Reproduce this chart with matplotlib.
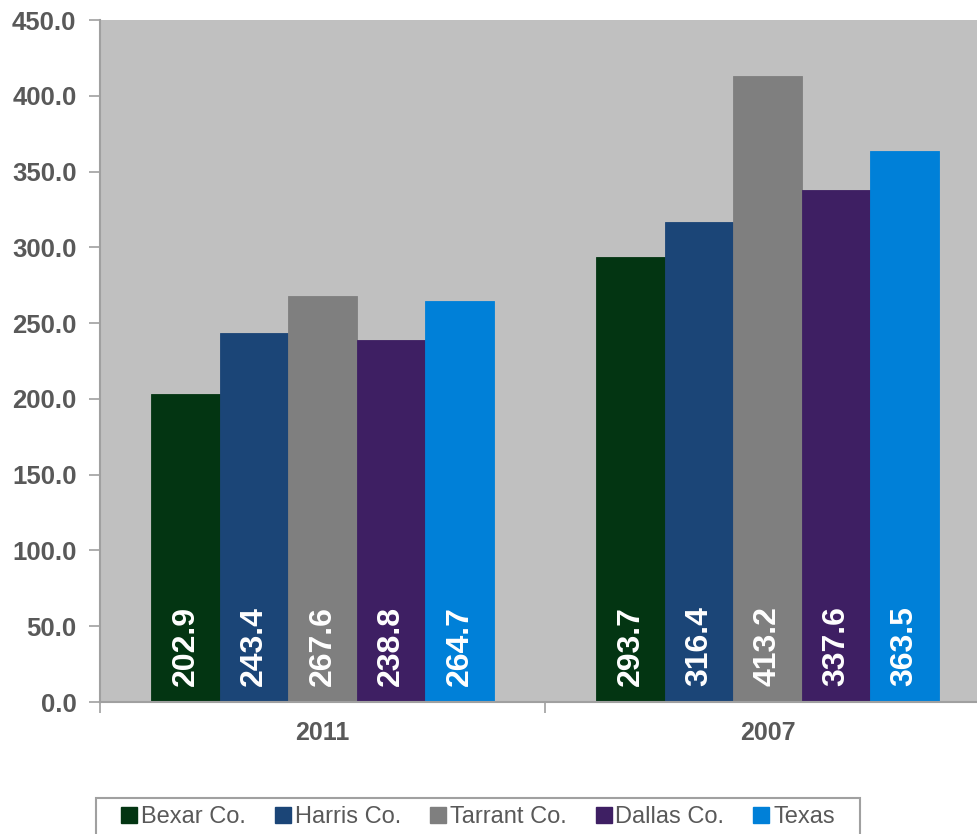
import matplotlib
matplotlib.use("Agg")
import matplotlib.pyplot as plt
import numpy as np
from matplotlib.lines import Line2D
from matplotlib.patches import Rectangle

years = ["2011", "2007"]
series = ["Bexar Co.", "Harris Co.", "Tarrant Co.", "Dallas Co.", "Texas"]
values = {
    "Bexar Co.": [202.9, 293.7],
    "Harris Co.": [243.4, 316.4],
    "Tarrant Co.": [267.6, 413.2],
    "Dallas Co.": [238.8, 337.6],
    "Texas": [264.7, 363.5],
}
colors = ["#033512", "#1b4577", "#7f7f7f", "#3e1f63", "#0080d8"]
yticks = np.arange(0, 451, 50)

plt.rcParams["font.family"] = ["Liberation Sans", "DejaVu Sans"]
text_grey = "#595959"
axis_grey = "#a0a0a0"
W, H = 978, 834

fig = plt.figure(figsize=(W / 100, H / 100), dpi=100)
ax = fig.add_axes([100 / W, 1 - 702 / H, 890 / W, 682 / H])
ax.set_facecolor("#c0c0c0")

x = np.arange(len(years))
width = 0.154
for i, (name, color) in enumerate(zip(series, colors)):
    pos = x + (i - 2) * width
    ax.bar(pos, values[name], width, color=color, edgecolor=color, linewidth=0.6, zorder=2)
    for px, v in zip(pos, values[name]):
        ax.text(px, 10.5, f"{v:.1f}", rotation=90, ha="center", va="bottom",
                color="white", fontsize=23, fontweight="bold", zorder=3)

ax.set_xlim(-0.5, 1.5)
ax.set_ylim(0, 450)
ax.set_yticks(yticks)
ax.set_yticklabels([f"{t:.1f}" for t in yticks], fontsize=18.5, fontweight="bold", color=text_grey)
ax.set_xticks(x)
ax.set_xticklabels(years, fontsize=18, fontweight="bold", color=text_grey)
ax.tick_params(axis="x", length=0, pad=14)
ax.tick_params(axis="y", length=8, width=1.2, color=axis_grey, pad=9)
# category boundary ticks
ax.set_xticks([-0.5, 0.5, 1.5], minor=True)
ax.tick_params(axis="x", which="minor", length=8, width=1.2, color=axis_grey)

for side in ["top", "right"]:
    ax.spines[side].set_visible(False)
for side in ["left", "bottom"]:
    ax.spines[side].set_color(axis_grey)
    ax.spines[side].set_linewidth(1.5)

# legend box runs off the bottom edge
fig.patches.append(Rectangle((96 / W, -0.05), 764 / W, 0.05 + 1 - 798 / H,
                             transform=fig.transFigure, facecolor="white",
                             edgecolor=axis_grey, linewidth=1.5))

handles = [Line2D([], [], marker="s", linestyle="none", markersize=12,
                  markerfacecolor=c, markeredgecolor=c) for c in colors]
fig.legend(handles, series, loc="upper left",
           bbox_to_anchor=(122 / W, 1 - 806 / H),
           ncol=5, frameon=False, fontsize=17, handletextpad=0.2,
           handlelength=0.6, columnspacing=1.27, borderaxespad=0,
           borderpad=0, labelcolor=text_grey)

fig.savefig("out.png", dpi=100)
